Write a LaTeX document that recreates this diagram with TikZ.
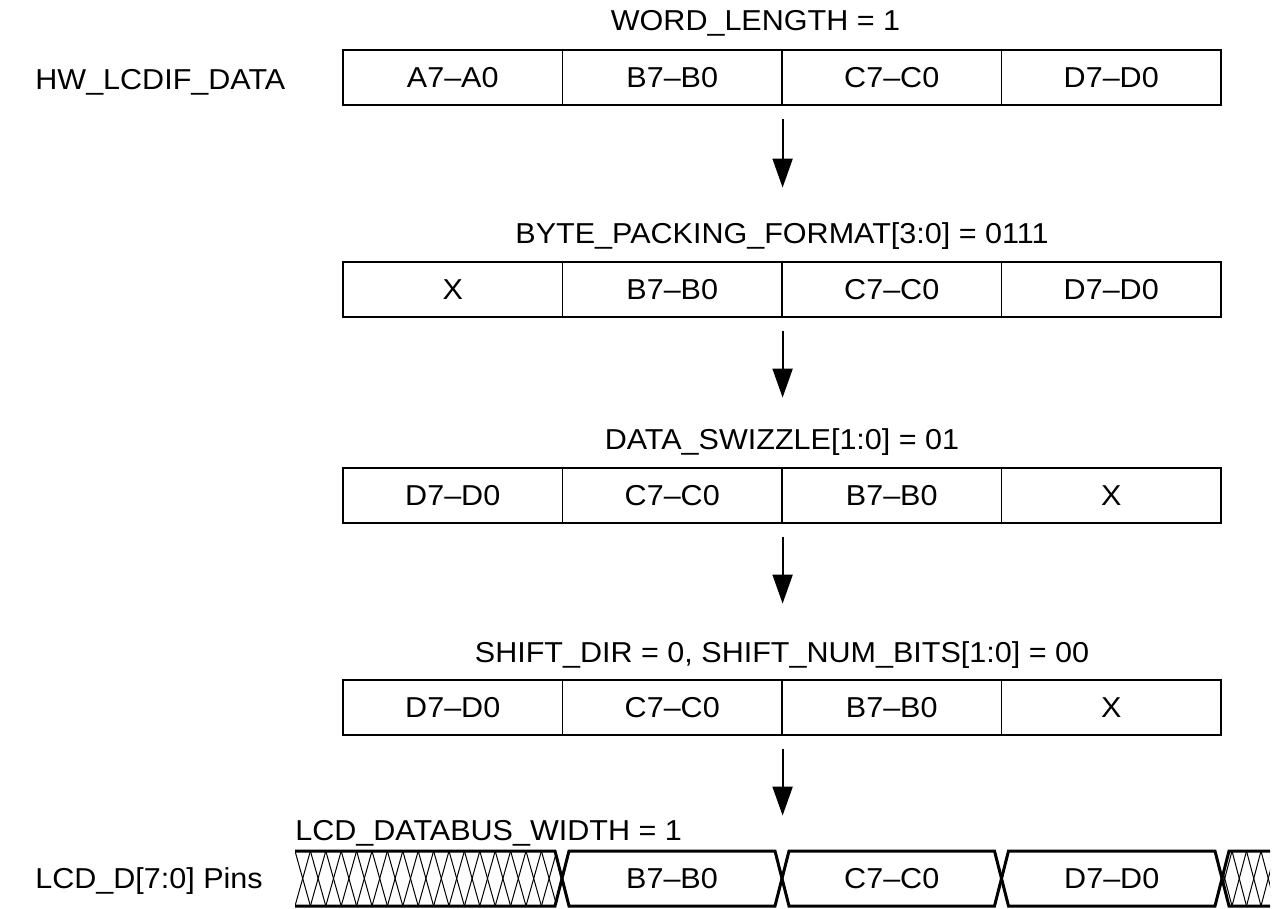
\documentclass[tikz,border=0pt]{standalone}
\usepackage{fontspec}
\setmainfont{Liberation Sans}[FakeStretch=1.06]
\usetikzlibrary{arrows.meta}
\begin{document}
\begin{tikzpicture}[x=0.5pt,y=-0.5pt,
  font=\fontsize{14.4pt}{17pt}\selectfont,
  cell/.style={draw, line width=0.6pt, rectangle, minimum width=109.75pt, minimum height=27.5pt, inner sep=0pt},
  lbl/.style={anchor=base west, inner sep=0pt},
  ttl/.style={anchor=base, inner sep=0pt},
  val/.style={inner sep=0pt},
  arr/.style={line width=1pt, -{Triangle[length=14.5pt,width=10pt]}},
  bus/.style={line width=1.5pt, line join=miter},
  hatch/.style={line width=0.5pt}]
\useasboundingbox (0,0) rectangle (1276,909);

% Row 1
\node[ttl] (t1) at (755.5,31) {WORD\_LENGTH = 1};
\node[lbl] (hw) at (35,90) {HW\_LCDIF\_DATA};
\node[cell] (r1a) at (452.75,77.5) {A7–A0};
\node[cell] (r1b) at (672.25,77.5) {B7–B0};
\node[cell] (r1c) at (891.75,77.5) {C7–C0};
\node[cell] (r1d) at (1111.25,77.5) {D7–D0};
\draw[arr] (r1b.south east) ++(0,13) coordinate (a1s) -- ++(0,69) coordinate (a1e);

% Row 2
\node[ttl] (t2) at (782,244) {BYTE\_PACKING\_FORMAT[3:0] = 0111};
\node[cell] (r2a) at (452.75,289.5) {X};
\node[cell] (r2b) at (672.25,289.5) {B7–B0};
\node[cell] (r2c) at (891.75,289.5) {C7–C0};
\node[cell] (r2d) at (1111.25,289.5) {D7–D0};
\draw[arr] (r2b.south east) ++(0,13) coordinate (a2s) -- ++(0,67) coordinate (a2e);

% Row 3
\node[ttl] (t3) at (782,450) {DATA\_SWIZZLE[1:0] = 01};
\node[cell] (r3a) at (452.75,495.5) {D7–D0};
\node[cell] (r3b) at (672.25,495.5) {C7–C0};
\node[cell] (r3c) at (891.75,495.5) {B7–B0};
\node[cell] (r3d) at (1111.25,495.5) {X};
\draw[arr] (r3b.south east) ++(0,13) coordinate (a3s) -- ++(0,67) coordinate (a3e);

% Row 4
\node[ttl] (t4) at (782,662) {SHIFT\_DIR = 0, SHIFT\_NUM\_BITS[1:0] = 00};
\node[cell] (r4a) at (452.75,707.5) {D7–D0};
\node[cell] (r4b) at (672.25,707.5) {C7–C0};
\node[cell] (r4c) at (891.75,707.5) {B7–B0};
\node[cell] (r4d) at (1111.25,707.5) {X};
\draw[arr] (r4b.south east) ++(0,13) coordinate (a4s) -- ++(0,67) coordinate (a4e);

% Timing row
\node[lbl] (t5) at (295,840) {LCD\_DATABUS\_WIDTH = 1};
\node[lbl] (pins) at (35,888.5) {LCD\_D[7:0] Pins};

% hatched lead-in
\begin{scope}
  \clip (295,851) -- (555,851) -- (562,878.5) -- (555,906) -- (295,906) -- cycle;
  \foreach \k in {0,...,16} {
    \draw[hatch] ({295+\k*15.4},851) -- ({295+(\k+1)*15.4},906);
    \draw[hatch] ({295+(\k+1)*15.4},851) -- ({295+\k*15.4},906);
  }
\end{scope}
\draw[bus] (295,851) -- (555,851) -- (562,878.5) -- (555,906) -- (295,906);

% data segments
\foreach \a/\b in {562/782, 782/1001.5, 1001.5/1222} {
  \draw[bus] (\a,878.5) -- ({\a+7},851) -- ({\b-7},851) -- (\b,878.5) -- ({\b-7},906) -- ({\a+7},906) -- cycle;
}
\node[val] (s1) at (672,878.5) {B7–B0};
\node[val] (s2) at (891.75,878.5) {C7–C0};
\node[val] (s3) at (1111.75,878.5) {D7–D0};

% hatched trailing
\begin{scope}
  \clip (1222,878.5) -- (1229,851) -- (1270,851) -- (1270,906) -- (1229,906) -- cycle;
  \foreach \k in {0,...,3} {
    \draw[hatch] ({1232+\k*14.5},851) -- ({1232+(\k+1)*14.5},906);
    \draw[hatch] ({1232+(\k+1)*14.5},851) -- ({1232+\k*14.5},906);
  }
  \draw[hatch] (1232,851) -- ({1232-14.5},906);
  \draw[hatch] ({1232-14.5},851) -- (1232,906);
\end{scope}
\draw[bus] (1270,851) -- (1229,851) -- (1222,878.5) -- (1229,906) -- (1270,906);
\end{tikzpicture}
\end{document}
